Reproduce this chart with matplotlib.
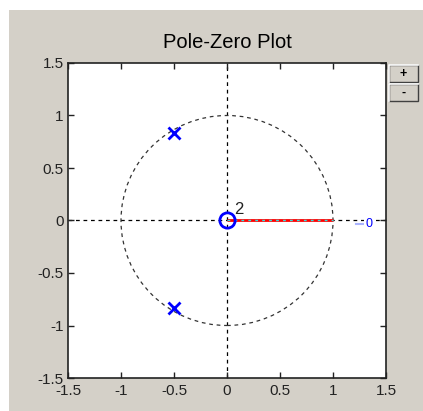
import matplotlib
matplotlib.use("Agg")
import matplotlib.pyplot as plt
from matplotlib.patches import Rectangle, Circle

plt.rcParams['font.family'] = ['Liberation Sans', 'DejaVu Sans']
plt.rcParams['axes.unicode_minus'] = False

# Data
poles_re = [-0.5, -0.5]
poles_im = [0.835, -0.835]
zeros_re = [0.0]
zeros_im = [0.0]
zero_mult = ["2"]
seg_x = [0.0, 1.0]
seg_y = [0.0, 0.0]
ticks = [-1.5, -1, -0.5, 0, 0.5, 1, 1.5]
tick_labels = ["-1.5", "-1", "-0.5", "0", "0.5", "1", "1.5"]
title = "Pole-Zero Plot"

W, H = 423, 411
fig = plt.figure(figsize=(W / 100, H / 100), dpi=100)
fig.patch.set_facecolor("white")
bg = "#d4d0c8"
fig.patches.append(Rectangle((9 / W, 0), 1 - 9 / W, 1 - 10 / H, transform=fig.transFigure,
                             facecolor=bg, edgecolor="none", zorder=-10))

ax = fig.add_axes([68 / W, 1 - 378 / H, 318 / W, 315 / H])
ax.set_facecolor("white")
ax.set_xlim(-1.5, 1.5)
ax.set_ylim(-1.5, 1.5)
ax.set_xticks(ticks)
ax.set_xticklabels(tick_labels)
ax.set_yticks(ticks)
ax.set_yticklabels(tick_labels)
ax.tick_params(direction="in", length=4, width=1, top=True, right=True,
               labelsize=11, colors="#222222")
ax.tick_params(axis="x", pad=4)
ax.tick_params(axis="y", pad=3)
for s in ax.spines.values():
    s.set_linewidth(1.2)
    s.set_color("#222222")

# reference lines
ax.axhline(0, color="black", ls=(0, (3, 3)), lw=0.9, zorder=1)
ax.axvline(0, color="black", ls=(0, (3, 3)), lw=0.9, zorder=1)
ax.add_patch(Circle((0, 0), 1, fill=False, edgecolor="#333333", ls=(0, (3, 3)), lw=0.9, zorder=1))

# segment
ax.plot(seg_x, seg_y, color="red", lw=2, zorder=3, solid_capstyle="butt")
ax.plot(seg_x, seg_y, color="#33dddd", lw=1, ls=(0, (2, 3)), zorder=4)

# poles and zeros
ax.plot(poles_re, poles_im, "x", color="blue", ms=8, mew=2, zorder=5)
ax.plot(zeros_re, zeros_im, "o", mfc="none", mec="blue", ms=11, mew=2, zorder=5)
for zr, zi, m in zip(zeros_re, zeros_im, zero_mult):
    ax.text(zr + 0.07, zi + 0.03, m, fontsize=12, color="#222222", va="bottom", ha="left")

# small marker at right
ax.plot([1.22, 1.30], [-0.03, -0.03], color="#aab4ff", lw=1.5, zorder=3)
ax.text(1.335, -0.03, "0", color="blue", fontsize=9, ha="center", va="center",
        bbox=dict(boxstyle="square,pad=0.05", fc="white", ec="none"), zorder=4)

fig.text(227 / W, 1 - 42 / H, title, fontsize=14.5, ha="center", va="center", color="black")

# buttons
for y0, lab in [(65, "+"), (84, "-")]:
    x0, bw, bh = 389, 29, 17
    fig.patches.append(Rectangle((x0 / W, 1 - (y0 + bh) / H), bw / W, bh / H, transform=fig.transFigure,
                                 facecolor=bg, edgecolor="#404040", lw=1.0, zorder=5))
    fig.lines.append(plt.Line2D([x0 / W, x0 / W, (x0 + bw) / W],
                                [1 - (y0 + bh) / H, 1 - y0 / H, 1 - y0 / H],
                                transform=fig.transFigure, color="white", lw=1.2, zorder=6))
    fig.text((x0 + bw / 2) / W, 1 - (y0 + bh / 2) / H, lab, fontsize=9, fontweight="bold",
             ha="center", va="center", color="black", zorder=7)

fig.savefig("out.png", dpi=100, facecolor=fig.get_facecolor())
